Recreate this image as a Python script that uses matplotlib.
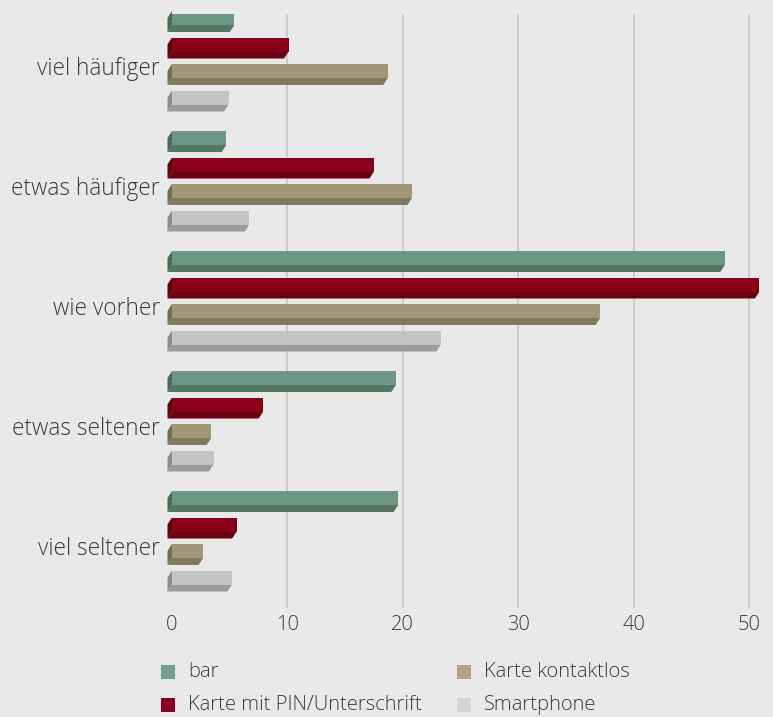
import matplotlib.pyplot as plt
from matplotlib.patches import Polygon, Rectangle

# Data (percent)
categories = ["viel häufiger", "etwas häufiger", "wie vorher", "etwas seltener", "viel seltener"]
series = ["bar", "Karte mit PIN/Unterschrift", "Karte kontaktlos", "Smartphone"]
bar_vals = [5.4, 4.7, 47.9, 19.4, 19.6]
pin_vals = [10.1, 17.5, 50.9, 7.9, 5.6]
contactless_vals = [18.7, 20.8, 37.1, 3.4, 2.7]
smartphone_vals = [4.9, 6.7, 23.3, 3.6, 5.2]
xticks = [0, 10, 20, 30, 40, 50]

values = [bar_vals, pin_vals, contactless_vals, smartphone_vals]
front_colors = ["#6e9686", "#880019", "#a29679", "#c2c5c3"]
dark_colors = ["#557565", "#6a0010", "#807860", "#9a9c9b"]
side_colors = ["#4a6858", "#5c000c", "#726a54", "#8c8e8d"]
legend_colors = ["#78a08f", "#8a0020", "#b0a588", "#d5d6d4"]

BG = "#e8e9e8"
TXT = "#3a3a3a"
FONT = "Open Sans"
FW = 300
FS = 14.5

W, H = 773, 717
fig = plt.figure(figsize=(W / 100, H / 100), dpi=100, facecolor=BG)

# axes in pixel terms: left 160, top 14, bottom 608
ax_left, ax_top, ax_bottom = 160, 14, 608
ax = fig.add_axes([ax_left / W, 1 - ax_bottom / H, (W - ax_left) / W, (ax_bottom - ax_top) / H])
ax.set_facecolor(BG)

px_per_x = 11.54   # pixels per value unit
px_per_y = 120.0   # pixels per category
x0 = -12 / px_per_x
ax.set_xlim(x0, x0 + (W - ax_left) / px_per_x)
ax.set_ylim(4 + (ax_bottom - 66 - 480) / px_per_y, -(66 - ax_top) / px_per_y)

# bar geometry in data units
face_h = 14 / px_per_y
dy = 7 / px_per_y
dx = 4.5 / px_per_x
offsets = [-55, -28.5, -2, 24.5]

for xv in xticks[1:]:
    ax.axvline(xv, color="#c6c7c6", lw=1.2, zorder=0)

for j, vals in enumerate(values):
    for i, v in enumerate(vals):
        top = i + offsets[j] / px_per_y
        bot = top + face_h
        # bottom face
        ax.add_patch(Polygon([(0, bot), (v, bot), (v - dx, bot + dy), (-dx, bot + dy)],
                             closed=True, facecolor=dark_colors[j], edgecolor="none",
                             zorder=2, clip_on=False))
        # left face
        ax.add_patch(Polygon([(0, top), (0, bot), (-dx, bot + dy), (-dx, top + dy)],
                             closed=True, facecolor=side_colors[j], edgecolor="none",
                             zorder=2, clip_on=False))
    tops = [i + offsets[j] / px_per_y for i in range(len(vals))]
    ax.barh([t + face_h / 2 for t in tops], vals, height=face_h, left=0,
            color=front_colors[j], edgecolor="none", zorder=3)

for s in ax.spines.values():
    s.set_visible(False)

ax.set_yticks(range(len(categories)))
ax.set_yticklabels(categories, fontsize=16.3, color=TXT, family=FONT, fontweight=FW)
ax.set_xticks(xticks)
ax.set_xticklabels([str(t) for t in xticks], fontsize=FS, color=TXT, family=FONT, fontweight=FW)
ax.tick_params(axis="both", length=0)
ax.tick_params(axis="y", pad=0)
ax.tick_params(axis="x", pad=5)

# legend, two columns (column-major order)
legend_pos = [(161, 672), (161, 705), (457, 672), (457, 705)]
for (px, py), name, c in zip(legend_pos, series, legend_colors):
    fig.patches.append(Rectangle((px / W, 1 - (py + 7) / H), 14 / W, 14 / H,
                                 transform=fig.transFigure, facecolor=c, edgecolor="none"))
    fig.text((px + 27) / W, 1 - py / H, name, fontsize=FS, color=TXT, family=FONT,
             fontweight=FW, va="center", ha="left")

fig.savefig("out.png", dpi=100, facecolor=BG)
